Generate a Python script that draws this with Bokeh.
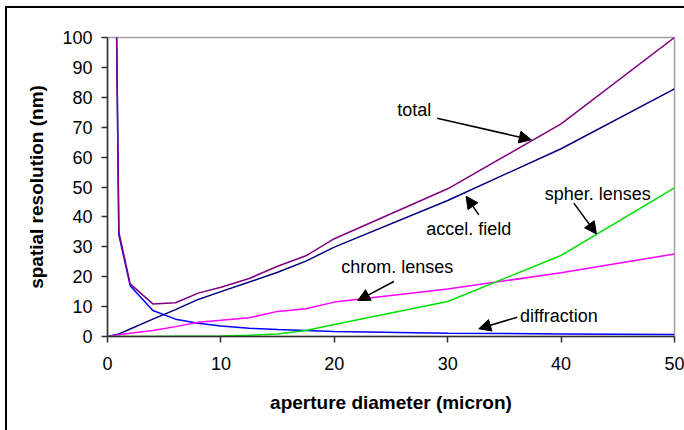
from bokeh.plotting import figure
from bokeh.models import Range1d, Arrow, NormalHead, Label, FixedTicker
from bokeh.embed import file_html
from bokeh.resources import INLINE

# ---- data ----
aperture = [0.1, 1, 2, 4, 6, 8, 10, 12.5, 15, 17.5, 20, 30, 40, 50]
total = [340, 35, 17.6, 10.9, 11.3, 14.5, 16.5, 19.4, 23.5, 27.0, 32.7, 49.4, 71.1, 100]
accel_field = [0.1, 0.8, 2.5, 5.8, 9.0, 12.4, 15.0, 18.2, 21.5, 25.2, 29.9, 45.5, 62.8, 82.8]
diffraction = [340, 34, 17, 8.7, 5.8, 4.4, 3.5, 2.8, 2.3, 2.0, 1.7, 1.1, 0.85, 0.7]
chrom_lenses = [0.05, 0.6, 1.1, 2.0, 3.3, 4.8, 5.4, 6.3, 8.4, 9.3, 11.5, 15.9, 21.3, 27.6]
spher_lenses = [0, 0, 0, 0, 0.05, 0.1, 0.2, 0.4, 0.8, 2.0, 4.0, 11.7, 27.1, 49.7]

x_ticks = [0, 10, 20, 30, 40, 50]
y_ticks = [0, 10, 20, 30, 40, 50, 60, 70, 80, 90, 100]

# annotation texts: (text, text x, text y, arrow tail x, tail y, arrow tip x, tip y)
notes = [
    ("total", 27.05, 75.6, 29.07, 73.0, 37.37, 65.8),
    ("accel. field", 31.85, 36.1, 32.74, 40.7, 31.63, 46.9),
    ("spher. lenses", 43.23, 47.5, 41.12, 44.6, 43.12, 34.3),
    ("chrom. lenses", 25.55, 23.2, 25.25, 18.4, 22.07, 12.0),
    ("diffraction", 39.8, 7.0, 36.13, 6.45, 32.74, 2.58),
]

FONT = "Liberation Sans"

p = figure(width=684, height=430, output_backend="svg", toolbar_location=None,
           x_range=Range1d(0, 50), y_range=Range1d(0, 100),
           min_border_left=107, min_border_right=10, min_border_top=37,
           min_border_bottom=94)
p.border_fill_color = None
p.background_fill_color = "#FFFFFF"
p.styles = {
    "background": "linear-gradient(#000,#000) 5px 6px / 2px 600px no-repeat, "
                  "linear-gradient(#000,#000) 5px 6px / 800px 2px no-repeat, #FFFFFF"
}

p.xgrid.visible = False
p.ygrid.visible = False
p.outline_line_color = "#A0A0A0"
p.outline_line_width = 1.5

for ax in (p.xaxis[0], p.yaxis[0]):
    ax.minor_tick_line_color = None
    ax.major_tick_in = 0
    ax.major_tick_out = 6
    ax.axis_line_color = "#303030"
    ax.axis_line_width = 1.5
    ax.major_tick_line_color = "#303030"
    ax.major_tick_line_width = 1.5
    ax.major_label_text_font = FONT
    ax.major_label_text_font_size = "18px"
    ax.major_label_text_color = "#000000"
    ax.axis_label_text_font = FONT
    ax.axis_label_text_font_size = "19px"
    ax.axis_label_text_font_style = "bold"
    ax.axis_label_text_color = "#000000"

p.xaxis.ticker = FixedTicker(ticks=x_ticks)
p.yaxis.ticker = FixedTicker(ticks=y_ticks)
p.xaxis.axis_label = "aperture diameter (micron)"
p.yaxis.axis_label = "spatial resolution (nm)"
p.xaxis.major_label_standoff = 14
p.xaxis.axis_label_standoff = 19
p.yaxis.major_label_standoff = 9
p.yaxis.axis_label_standoff = 12

p.line(aperture, diffraction, line_color="#0000FF", line_width=1.5)
p.line(aperture, accel_field, line_color="#000080", line_width=1.5)
p.line(aperture, chrom_lenses, line_color="#FF00FF", line_width=1.5)
p.line(aperture, spher_lenses, line_color="#00E000", line_width=1.5)
p.line(aperture, total, line_color="#800080", line_width=1.5)

for text, tx, ty, ax0, ay0, ax1, ay1 in notes:
    p.add_layout(Label(x=tx, y=ty, text=text, text_align="center",
                       text_baseline="middle", text_font=FONT,
                       text_font_size="18px", text_color="#000000"))
    p.add_layout(Arrow(x_start=ax0, y_start=ay0, x_end=ax1, y_end=ay1,
                       line_color="#000000", line_width=1.5,
                       end=NormalHead(size=12, fill_color="#000000",
                                      line_color="#000000", line_width=1)))

open("out.html", "w").write(file_html(p, INLINE))
